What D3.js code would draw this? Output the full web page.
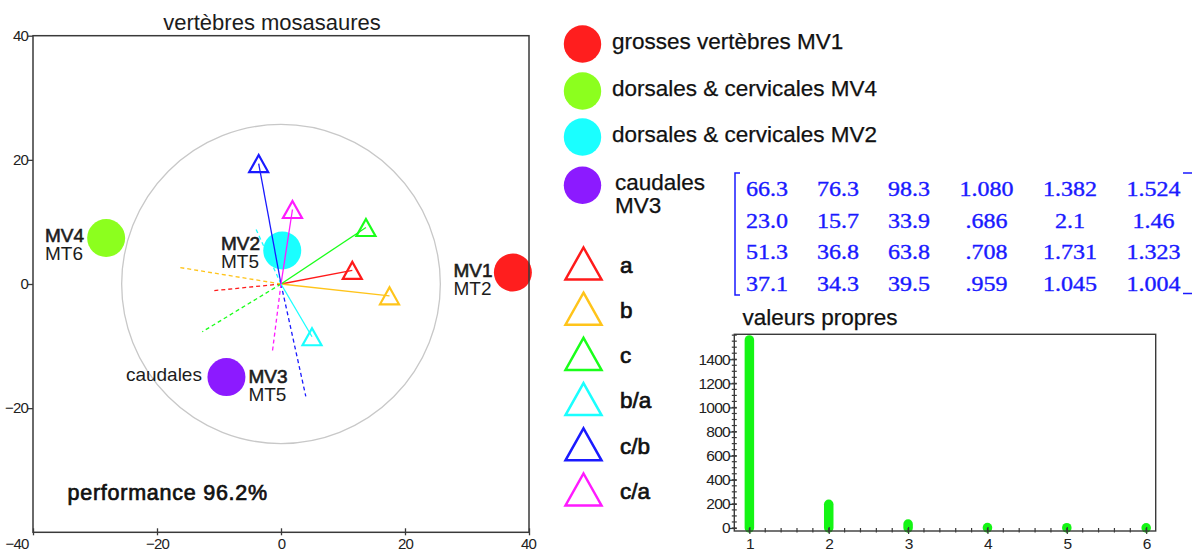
<!DOCTYPE html>
<html>
<head>
<meta charset="utf-8">
<script src="https://cdn.jsdelivr.net/npm/d3@7"></script>
<style>
  html, body { margin: 0; padding: 0; background: #fff; }
  svg { display: block; font-family: "Liberation Sans", Arial, sans-serif; }
</style>
</head>
<body>
<svg id="chart" width="1192" height="549"></svg>
<script>
// ---- biplot data (PCA of mosasaur vertebra measurements) ----
const groupNames  = ["MV1", "MV4", "MV2", "MV3"];
const groupSub    = ["MT2", "MT6", "MT5", "MT5"];
const groupX      = [37.4, -28.2, 0.2, -8.8];
const groupY      = [1.85, 7.4, 5.4, -15.0];
const groupColors = ["#ff1e1e", "#8cff1e", "#1affff", "#8c1aff"];
const groupLegend = [["grosses vertèbres MV1"], ["dorsales & cervicales MV4"],
                     ["dorsales & cervicales MV2"], ["caudales", "MV3"]];

const varNames  = ["a", "b", "c", "b/a", "c/b", "c/a"];
const varX      = [11.5, 17.5, 13.7, 5.0, -3.6, 1.85];
const varY      = [2.2, -1.9, 9.1, -8.5, 19.4, 12.0];
const varNegX   = [-11.1, -16.6, -12.7, -4.2, 4.0, -1.4];
const varNegY   = [-1.1, 2.7, -7.7, 9.2, -18.1, -11.0];
const varColors = ["#ff1a1a", "#ffc41a", "#1aff1a", "#1affff", "#1a1aff", "#ff1aff"];

const corrRadius = 25.7;
const xTicks = [-40, -20, 0, 20, 40];
const yTicks = [40, 20, 0, -20];
const chartTitle = "vertèbres mosasaures";
const performanceText = "performance 96.2%";

// ---- mean measurement matrix ----
const matrixRows = [
  ["66.3", "76.3", "98.3", "1.080", "1.382", "1.524"],
  ["23.0", "15.7", "33.9", ".686", "2.1", "1.46"],
  ["51.3", "36.8", "63.8", ".708", "1.731", "1.323"],
  ["37.1", "34.3", "39.5", ".959", "1.045", "1.004"]
];

// ---- eigenvalues ----
const eigenIndex  = [1, 2, 3, 4, 5, 6];
const eigenValues = [1560, 197, 33, 4, 3, 2];
const eigenYTicks = [0, 200, 400, 600, 800, 1000, 1200, 1400];
const eigenTitle = "valeurs propres";

const svg = d3.select("#chart");
const axisColor = "#3a3a3a";
const textColor = "#1c1c1c";

// ================= biplot =================
const px = { l: 33, r: 529, t: 35.7, b: 532.3 };
const x = d3.scaleLinear().domain([-40, 40]).range([px.l, px.r]);
const y = d3.scaleLinear().domain([-40, 40]).range([px.b, px.t]);

svg.append("text")
  .attr("x", (px.l + px.r) / 2 - 9).attr("y", 30)
  .attr("text-anchor", "middle").attr("font-size", 22).attr("fill", textColor)
  .text(chartTitle);

// correlation circle
svg.append("ellipse")
  .attr("cx", x(0)).attr("cy", y(0))
  .attr("rx", x(corrRadius) - x(0)).attr("ry", y(0) - y(corrRadius))
  .attr("fill", "none").attr("stroke", "#c8c8c8").attr("stroke-width", 1.3);

// group centroids
const groups = groupNames.map((n, i) => ({ n, sub: groupSub[i], x: groupX[i], y: groupY[i], c: groupColors[i] }));
svg.append("g").selectAll("circle").data(groups).join("circle")
  .attr("cx", d => x(d.x)).attr("cy", d => y(d.y)).attr("r", 19)
  .attr("fill", d => d.c);

// variable vectors: dashed opposite direction, solid towards the variable
const vars = varNames.map((n, i) => ({ n, x: varX[i], y: varY[i], nx: varNegX[i], ny: varNegY[i], c: varColors[i] }));
const vg = svg.append("g");
vg.selectAll("line.neg").data(vars).join("line").attr("class", "neg")
  .attr("x1", x(0)).attr("y1", y(0))
  .attr("x2", d => x(d.nx)).attr("y2", d => y(d.ny))
  .attr("stroke", d => d.c).attr("stroke-width", 1.3).attr("stroke-dasharray", "4,3");
vg.selectAll("line.pos").data(vars).join("line").attr("class", "pos")
  .attr("x1", x(0)).attr("y1", y(0))
  .attr("x2", d => x(d.x)).attr("y2", d => y(d.y))
  .attr("stroke", d => d.c).attr("stroke-width", 1.3);

const tri = (w, h) => `M0,${-h / 2}L${w / 2},${h / 2}L${-w / 2},${h / 2}Z`;
vg.selectAll("path").data(vars).join("path")
  .attr("d", tri(19, 17))
  .attr("transform", d => `translate(${x(d.x)},${y(d.y)})`)
  .attr("fill", "none").attr("stroke", d => d.c).attr("stroke-width", 2.2)
  .attr("stroke-linejoin", "miter");

// centroid labels
const labelLayout = [
  { dx: -59.4, dy1: 4.2, dy2: 22.5 },
  { dx: -61.2, dy1: 3.7, dy2: 22 },
  { dx: -61.2, dy1: -0.5, dy2: 17.5 },
  { dx: 22, dy1: 5.5, dy2: 23.5 }
];
const lg = svg.append("g").attr("font-size", 19).attr("fill", textColor);
groups.forEach((d, i) => {
  const L = labelLayout[i];
  lg.append("text").attr("x", x(d.x) + L.dx).attr("y", y(d.y) + L.dy1)
    .attr("stroke", textColor).attr("stroke-width", 0.6).text(d.n);
  lg.append("text").attr("x", x(d.x) + L.dx).attr("y", y(d.y) + L.dy2)
    .text(d.sub);
});
lg.append("text").attr("x", x(groups[3].x) - 24.5).attr("y", y(groups[3].y) + 4)
  .attr("text-anchor", "end").text("caudales");

svg.append("text").attr("x", 67.5).attr("y", 500)
  .attr("font-size", 21.5).attr("fill", "#111").attr("stroke", "#111").attr("stroke-width", 0.7)
  .attr("letter-spacing", 0.75)
  .text(performanceText);

// frame and axes
svg.append("rect").attr("x", px.l).attr("y", px.t)
  .attr("width", px.r - px.l).attr("height", px.b - px.t)
  .attr("fill", "none").attr("stroke", axisColor).attr("stroke-width", 1.5);

const yAx = svg.append("g").attr("transform", `translate(${px.l},0)`)
  .call(d3.axisLeft(y).tickValues(yTicks).tickSizeInner(5).tickSizeOuter(0).tickPadding(0).tickFormat(d3.format("d")));
const xAx = svg.append("g").attr("transform", `translate(0,${px.b})`)
  .call(d3.axisBottom(x).tickValues(xTicks).tickSizeInner(3).tickSizeOuter(0).tickPadding(3).tickFormat(d3.format("d")));
[yAx, xAx].forEach(g => {
  g.select(".domain").remove();
  g.selectAll("line").attr("stroke", axisColor).attr("stroke-width", 1.3);
  g.selectAll("text").attr("font-size", 15).attr("fill", "#222")
    .attr("font-family", "'Liberation Sans', Arial, sans-serif").attr("letter-spacing", -0.8);
});
xAx.selectAll("line").attr("y1", -4);
xAx.selectAll("text").filter(d => d === xTicks[0]).attr("text-anchor", "end").attr("x", -5);
xAx.selectAll("text").filter(d => d === xTicks[xTicks.length - 1]).attr("x", -1);

// ================= legend =================
const leg = svg.append("g").attr("font-size", 22.5).attr("fill", "#111");
const legCircleY = [44, 91, 137, 185.3];
groups.forEach((d, i) => {
  leg.append("circle").attr("cx", 582.5).attr("cy", legCircleY[i]).attr("r", 18.7).attr("fill", d.c);
  groupLegend[i].forEach((t, k) => {
    leg.append("text").attr("x", groupLegend[i].length > 1 ? 615 : 612)
      .attr("y", legCircleY[i] + 5 + k * 22.3)
      .attr("stroke", "#111").attr("stroke-width", 0.25).text(t);
  });
});
vars.forEach((d, i) => {
  const cy = 263.5 + i * 45.2;
  leg.append("path").attr("d", tri(36, 32))
    .attr("transform", `translate(583.5,${cy})`)
    .attr("fill", "none").attr("stroke", d.c).attr("stroke-width", 2.5);
  leg.append("text").attr("x", 620).attr("y", cy + 9.3)
    .attr("font-size", 22.5).attr("stroke", "#111").attr("stroke-width", 0.7)
    .attr("fill", "#111").text(d.n);
});

// ================= matrix =================
const colCenters = [767, 838, 909, 986.5, 1070, 1153.5];
const rowBase = [196, 227.5, 259, 290.7];
const mg = svg.append("g").attr("fill", "#1a1aff")
  .attr("font-family", "'Liberation Serif', 'Times New Roman', serif").attr("font-size", 20);
matrixRows.forEach((row, r) => {
  row.forEach((v, c) => {
    mg.append("text").attr("text-anchor", "middle")
      .attr("stroke", "#1a1aff").attr("stroke-width", 0.35)
      .attr("transform", `translate(${colCenters[c]},${rowBase[r]}) scale(1.2,1)`)
      .text(v);
  });
});
mg.append("path").attr("d", "M740,173H735V295H740")
  .attr("fill", "none").attr("stroke", "#1a1aff").attr("stroke-width", 1.5);
mg.append("path").attr("d", "M1183,173H1194V293.5H1183")
  .attr("fill", "none").attr("stroke", "#1a1aff").attr("stroke-width", 1.5);

// ================= eigenvalue plot =================
const ep = { l: 734.3, r: 1155.7, t: 334.3, b: 531 };
const ex = d3.scaleLinear().domain([0.81, 6.12]).range([ep.l, ep.r]);
const ey = d3.scaleLinear().domain([-25, 1607]).range([ep.b, ep.t]);

svg.append("text").attr("x", 742.5).attr("y", 325)
  .attr("font-size", 22.5).attr("fill", "#111").attr("stroke", "#111").attr("stroke-width", 0.25)
  .text(eigenTitle);

const eg = svg.append("g");
eg.selectAll("line.bar").data(eigenValues).join("line").attr("class", "bar")
  .attr("x1", (d, i) => ex(eigenIndex[i])).attr("x2", (d, i) => ex(eigenIndex[i]))
  .attr("y1", ey(0)).attr("y2", d => ey(d))
  .attr("stroke", "#14f514").attr("stroke-width", 9.5).attr("stroke-linecap", "round");

eg.append("rect").attr("x", ep.l).attr("y", ep.t)
  .attr("width", ep.r - ep.l).attr("height", ep.b - ep.t)
  .attr("fill", "none").attr("stroke", axisColor).attr("stroke-width", 1.4);

// minor ticks
const yMinor = d3.range(0, 1601, 50);
eg.selectAll("line.ymin").data(yMinor).join("line").attr("class", "ymin")
  .attr("x1", ep.l - 2.5).attr("x2", ep.l + 2.5)
  .attr("y1", d => ey(d)).attr("y2", d => ey(d))
  .attr("stroke", axisColor).attr("stroke-width", 1.2);
const xMinor = d3.range(1, 31).map(k => 0.8 + k * 0.2).filter(v => v < 6.1);
eg.selectAll("line.xmin").data(xMinor).join("line").attr("class", "xmin")
  .attr("x1", d => ex(d)).attr("x2", d => ex(d))
  .attr("y1", ep.b - 3).attr("y2", ep.b + 1.5)
  .attr("stroke", axisColor).attr("stroke-width", 1.2);

const eyAx = eg.append("g").attr("transform", `translate(${ep.l},0)`)
  .call(d3.axisLeft(ey).tickValues(eigenYTicks).tickSizeInner(5).tickSizeOuter(0).tickPadding(0).tickFormat(d3.format("d")));
const exAx = eg.append("g").attr("transform", `translate(0,${ep.b})`)
  .call(d3.axisBottom(ex).tickValues(eigenIndex).tickSizeInner(3).tickSizeOuter(0).tickPadding(3.5).tickFormat(d3.format("d")));
[eyAx, exAx].forEach(g => {
  g.select(".domain").remove();
  g.selectAll("line").attr("stroke", axisColor).attr("stroke-width", 1.2);
  g.selectAll("text").attr("font-size", 15.5).attr("fill", "#222")
    .attr("font-family", "'Liberation Sans', Arial, sans-serif").attr("letter-spacing", -0.8);
});
eyAx.selectAll("line").attr("x2", 2.5).attr("x1", -5);
eyAx.selectAll("text").attr("x", -4.5);
exAx.selectAll("line").attr("y1", -4);
</script>
</body>
</html>
